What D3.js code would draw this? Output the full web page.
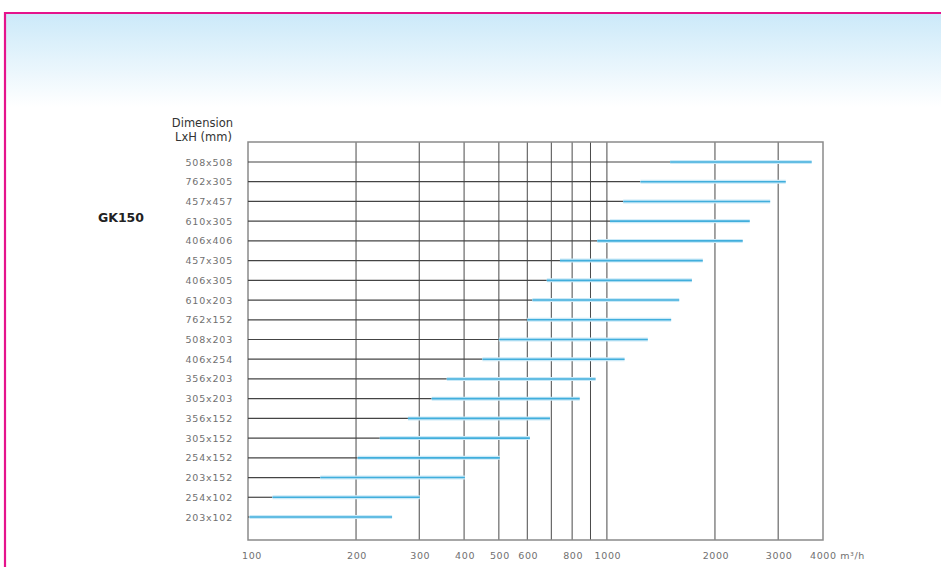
<!DOCTYPE html>
<html>
<head>
<meta charset="utf-8">
<script src="https://cdn.jsdelivr.net/npm/d3@7"></script>
<style>
  body { margin: 0; background: #fff; }
  svg { display: block; }
</style>
</head>
<body>
<div id="chart"></div>
<script>
// Dimensiones de conducto (de arriba a abajo)
const dimensions = ['508x508', '762x305', '457x457', '610x305', '406x406', '457x305', '406x305',
    '610x203', '762x152', '508x203', '406x254', '356x203', '305x203', '356x152', '305x152',
    '254x152', '203x152', '254x102', '203x102'];
// Caudal mínimo y máximo recomendado (m³/h)
const flowMin = [1500, 1240, 1110, 1020, 940, 740, 680, 620, 600, 500, 450, 358, 325, 279, 233, 202, 159, 117, 101];
const flowMax = [3720, 3150, 2850, 2500, 2390, 1850, 1725, 1590, 1510, 1300, 1120, 930, 840, 694, 610, 503, 402, 301, 252];
const gridValues = [200, 300, 400, 500, 600, 700, 800, 900, 1000, 2000, 3000];
const tickValues = [100, 200, 300, 400, 500, 600, 800, 1000, 2000, 3000, 4000];

const W = 941, H = 567;
const svg = d3.select('#chart').append('svg')
    .attr('width', W).attr('height', H);

// Fondo con degradado
const defs = svg.append('defs');
const grad = defs.append('linearGradient').attr('id', 'bg').attr('x1', 0).attr('y1', 0).attr('x2', 0).attr('y2', 1);
grad.append('stop').attr('offset', 0).attr('stop-color', '#cbe9f9');
grad.append('stop').attr('offset', 1).attr('stop-color', '#ffffff');

svg.append('rect').attr('x', 5).attr('y', 13).attr('width', W).attr('height', 94).attr('fill', 'url(#bg)');
svg.append('path')
    .attr('d', `M5,${H} V13 H${W}`)
    .attr('fill', 'none').attr('stroke', '#e5138c').attr('stroke-width', 2.2);

// Escalas
const x = d3.scaleLog().domain([100, 4000]).range([248, 823]);
const y = d3.scalePoint().domain(dimensions).range([162, 517]);
const plotTop = 142, plotBottom = 540;

const g = svg.append('g');

// Rejilla vertical
g.selectAll('.vgrid')
    .data(gridValues)
    .join('line')
    .attr('x1', d => x(d)).attr('x2', d => x(d))
    .attr('y1', plotTop).attr('y2', plotBottom)
    .attr('stroke', '#4a4a4a').attr('stroke-width', 1);

// Marco
g.append('rect')
    .attr('x', x(100)).attr('y', plotTop)
    .attr('width', x(4000) - x(100)).attr('height', plotBottom - plotTop)
    .attr('fill', 'none').attr('stroke', '#8a8a8a').attr('stroke-width', 1.5);

// Líneas grises hasta el caudal mínimo
g.selectAll('.row')
    .data(dimensions)
    .join('line')
    .attr('x1', x(100))
    .attr('x2', (d, i) => x(flowMin[i]))
    .attr('y1', d => y(d)).attr('y2', d => y(d))
    .attr('stroke', '#444').attr('stroke-width', 1.2);

// Rango recomendado (azul)
g.selectAll('.halo')
    .data(dimensions)
    .join('line')
    .attr('x1', (d, i) => x(flowMin[i]))
    .attr('x2', (d, i) => x(flowMax[i]))
    .attr('y1', d => y(d)).attr('y2', d => y(d))
    .attr('stroke', '#cbeaf8').attr('stroke-width', 4);

g.selectAll('.range')
    .data(dimensions)
    .join('line')
    .attr('x1', (d, i) => x(flowMin[i]))
    .attr('x2', (d, i) => x(flowMax[i]))
    .attr('y1', d => y(d)).attr('y2', d => y(d))
    .attr('stroke', '#41aedc').attr('stroke-width', 1.6);

// Etiquetas de dimensiones
const smallFont = "'DejaVu Sans', sans-serif";
g.selectAll('.dimlabel')
    .data(dimensions)
    .join('text')
    .attr('x', 233).attr('y', d => y(d) + 3.5)
    .attr('text-anchor', 'end')
    .attr('font-family', smallFont).attr('font-size', '9.5px')
    .attr('letter-spacing', '0.8px')
    .attr('fill', '#707070')
    .text(d => d);

// Etiquetas del eje X
g.selectAll('.xlabel')
    .data(tickValues)
    .join('text')
    .attr('x', d => d === 4000 ? x(d) - 13 : x(d) + (d === 100 ? 4 : 1))
    .attr('y', 559)
    .attr('text-anchor', d => d === 4000 ? 'start' : 'middle')
    .attr('font-family', smallFont).attr('font-size', '9.5px')
    .attr('letter-spacing', '0.6px')
    .attr('fill', '#707070')
    .text(d => d === 4000 ? '4000 m³/h' : d);

// Título del eje Y
const ttl = g.append('text')
    .attr('text-anchor', 'end')
    .attr('font-family', "'DejaVu Sans', sans-serif").attr('font-size', '11.5px')
    .attr('fill', '#333');
ttl.append('tspan').attr('x', 233).attr('y', 127).text('Dimension');
ttl.append('tspan').attr('x', 232).attr('y', 141).text('LxH (mm)');

// Modelo
g.append('text')
    .attr('x', 121).attr('y', 222)
    .attr('text-anchor', 'middle')
    .attr('font-family', "'DejaVu Sans', sans-serif").attr('font-size', '12.5px')
    .attr('font-weight', 'bold').attr('fill', '#222')
    .text('GK150');
</script>
</body>
</html>
